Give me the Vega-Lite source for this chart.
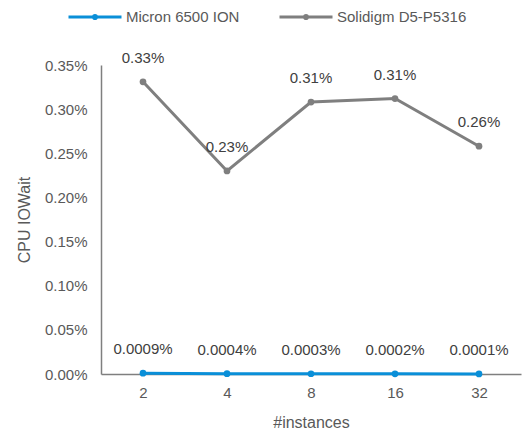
{
  "$schema": "https://vega.github.io/schema/vega-lite/v6.json",
  "autosize": "none",
  "width": 420,
  "height": 309,
  "padding": {"left": 101, "top": 65, "right": 8, "bottom": 57},
  "background": "white",
  "config": {
    "font": "Liberation Sans",
    "view": {"stroke": null},
    "axis": {"grid": false, "ticks": false, "labelColor": "#595959", "titleColor": "#595959", "labelFont": "Liberation Sans", "titleFont": "Liberation Sans", "titleFontWeight": "normal", "domainColor": "#7f7f7f", "domainWidth": 1.5}
  },
  "data": {
    "values": [
      {"n": "2", "series": "Micron 6500 ION", "v": 0.000009},
      {"n": "4", "series": "Micron 6500 ION", "v": 0.000004},
      {"n": "8", "series": "Micron 6500 ION", "v": 0.000003},
      {"n": "16", "series": "Micron 6500 ION", "v": 0.000002},
      {"n": "32", "series": "Micron 6500 ION", "v": 0.000001},
      {"n": "2", "series": "Solidigm D5-P5316", "v": 0.00331},
      {"n": "4", "series": "Solidigm D5-P5316", "v": 0.00230},
      {"n": "8", "series": "Solidigm D5-P5316", "v": 0.00308},
      {"n": "16", "series": "Solidigm D5-P5316", "v": 0.00312},
      {"n": "32", "series": "Solidigm D5-P5316", "v": 0.00258}
    ]
  },
  "encoding": {
    "x": {"field": "n", "type": "ordinal", "sort": ["2", "4", "8", "16", "32"],
      "scale": {"type": "point", "padding": 0.5},
      "axis": {"title": "#instances", "labelAngle": 0, "labelFontSize": 15, "titleFontSize": 16, "labelPadding": 11, "titlePadding": 14}},
    "y": {"field": "v", "type": "quantitative",
      "scale": {"domain": [0, 0.0035], "nice": false},
      "axis": {"title": "CPU IOWait", "format": ".2%", "values": [0, 0.0005, 0.001, 0.0015, 0.002, 0.0025, 0.003, 0.0035], "labelFontSize": 15, "titleFontSize": 16, "labelPadding": 14, "titlePadding": 12}}
  },
  "layer": [
    {
      "mark": {"type": "line", "strokeWidth": 3, "point": {"filled": true, "size": 45}},
      "encoding": {
        "color": {"field": "series", "type": "nominal",
          "scale": {"domain": ["Micron 6500 ION", "Solidigm D5-P5316"], "range": ["#0a8fd8", "#7f7f7f"]},
          "legend": {"title": null, "orient": "none", "legendX": -34, "legendY": -76, "direction": "horizontal",
            "symbolType": "M-1,0L1,0M-0.06,0A0.06,0.06,0,1,1,0.06,0A0.06,0.06,0,1,1,-0.06,0",
            "symbolSize": 2809, "symbolStrokeWidth": 3, "labelFontSize": 15, "labelColor": "#595959", "labelOffset": 3, "columnPadding": 33, "labelFont": "Liberation Sans"}}
      }
    },
    {
      "transform": [{"filter": "datum.series == 'Solidigm D5-P5316'"}],
      "mark": {"type": "text", "dy": -24, "fontSize": 15, "color": "#404040"},
      "encoding": {"text": {"field": "v", "type": "quantitative", "format": ".2%"}}
    },
    {
      "transform": [{"filter": "datum.series == 'Micron 6500 ION'"}],
      "mark": {"type": "text", "dy": -24, "fontSize": 15, "color": "#404040"},
      "encoding": {"text": {"field": "v", "type": "quantitative", "format": ".4%"}}
    }
  ]
}
